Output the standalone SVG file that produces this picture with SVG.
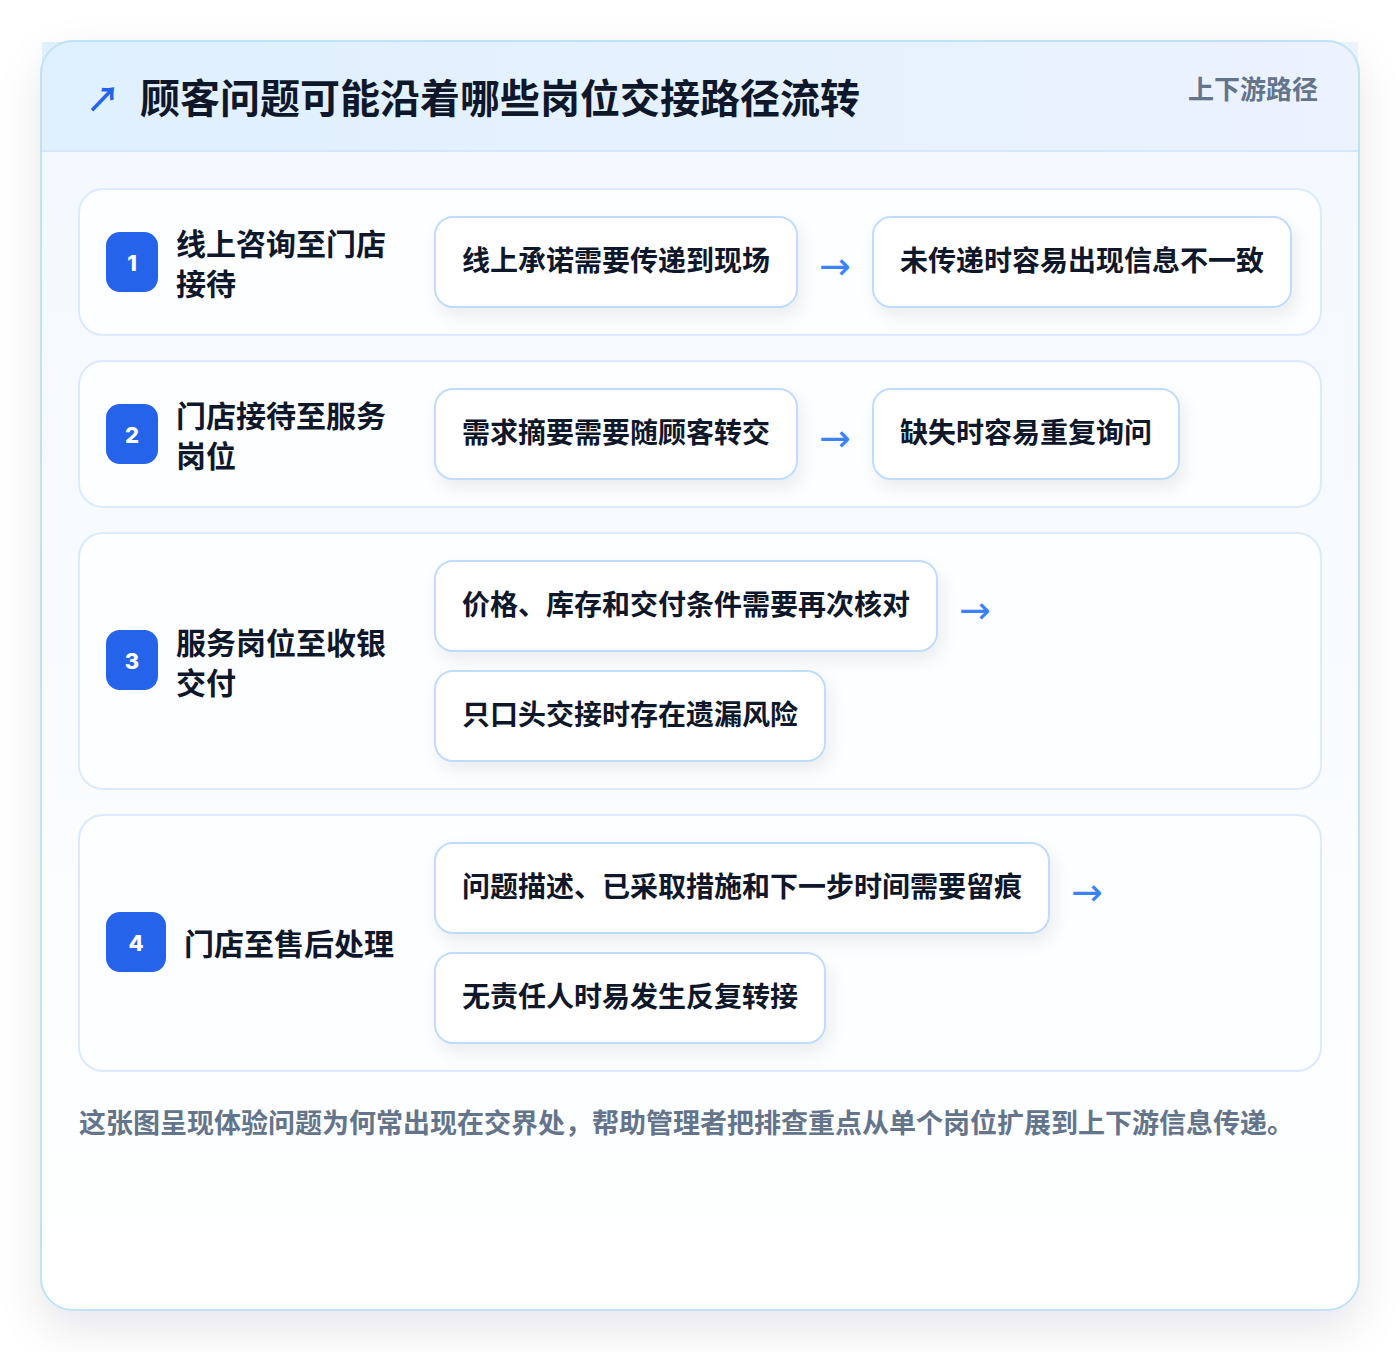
<svg xmlns="http://www.w3.org/2000/svg" width="1400" height="1352" viewBox="0 0 1400 1352">
  <defs>
    <linearGradient id="cardFill" x1="0" y1="0" x2="0" y2="1">
      <stop offset="0" stop-color="#f2f8fe"/>
      <stop offset="1" stop-color="#ffffff"/>
    </linearGradient>
    <linearGradient id="headFill" x1="0" y1="0" x2="1" y2="0">
      <stop offset="0" stop-color="#dff0fe"/>
      <stop offset="1" stop-color="#ecf2fe"/>
    </linearGradient>
    <filter id="cardShadow" x="-10%" y="-10%" width="120%" height="125%">
      <feDropShadow dx="0" dy="18" stdDeviation="22" flood-color="#0f172a" flood-opacity="0.10"/>
    </filter>
    <filter id="boxShadow" x="-10%" y="-20%" width="130%" height="160%">
      <feDropShadow dx="4" dy="8" stdDeviation="8" flood-color="#0f172a" flood-opacity="0.07"/>
    </filter>
  </defs>
  <style>
    text { font-family: "Noto Sans CJK SC", "Noto Sans", "Liberation Sans", sans-serif; font-weight: 700; }
    .row { fill: #fdfeff; stroke: #dbeafe; stroke-width: 2; }
    .badge { fill: #2563eb; }
    .badgeNum { fill: #ffffff; font-size: 22px; text-anchor: middle; font-family: "Inter", "Noto Sans", sans-serif; font-weight: 800; }
    .label { fill: #0f172a; font-size: 30px; }
    .box { fill: #ffffff; stroke: #bfdbfe; stroke-width: 2; }
    .boxText { fill: #0f172a; font-size: 28px; }
    .arrow { fill: #3b82f6; font-size: 38px; font-family: "DejaVu Sans", sans-serif; font-weight: 400; }
  </style>

  <rect x="0" y="0" width="1400" height="1352" fill="#ffffff"/>

  <!-- Card -->
  <g id="card">
    <rect x="41" y="41" width="1318" height="1269" rx="32" fill="url(#cardFill)" filter="url(#cardShadow)"/>
    <rect x="42" y="42" width="1316" height="109" fill="url(#headFill)"/>
    <line x1="42" y1="151" x2="1358" y2="151" stroke="#d5e8fb" stroke-width="2"/>
    <rect x="41" y="41" width="1318" height="1269" rx="32" fill="none" stroke="#bee3f7" stroke-width="2"/>
  </g>

  <g id="header">
    <text x="86" y="112" fill="#2563eb" font-size="34" font-family="DejaVu Sans, sans-serif" font-weight="700">↗</text>
    <text x="140" y="113" fill="#0f172a" font-size="40">顾客问题可能沿着哪些岗位交接路径流转</text>
    <text x="1318" y="99" fill="#64748b" font-size="26" text-anchor="end">上下游路径</text>
  </g>

  <!-- Row 1 -->
  <g id="row1">
    <rect class="row" x="79" y="189" width="1242" height="146" rx="24"/>
    <rect class="badge" x="106" y="232" width="52" height="60" rx="14"/>
    <text class="badgeNum" x="132" y="271">1</text>
    <text class="label" x="176" y="255">线上咨询至门店</text>
    <text class="label" x="176" y="295">接待</text>
  </g>
  <g id="row1-a">
    <rect class="box" x="435" y="217" width="362" height="90" rx="18" filter="url(#boxShadow)"/>
    <text class="boxText" x="462" y="271">线上承诺需要传递到现场</text>
  </g>
  <g id="row1-b">
    <rect class="box" x="873" y="217" width="418" height="90" rx="18" filter="url(#boxShadow)"/>
    <text class="boxText" x="900" y="271">未传递时容易出现信息不一致</text>
  </g>

  <!-- Row 2 -->
  <g id="row2">
    <rect class="row" x="79" y="361" width="1242" height="146" rx="24"/>
    <rect class="badge" x="106" y="404" width="52" height="60" rx="14"/>
    <text class="badgeNum" x="132" y="443">2</text>
    <text class="label" x="176" y="427">门店接待至服务</text>
    <text class="label" x="176" y="467">岗位</text>
  </g>
  <g id="row2-a">
    <rect class="box" x="435" y="389" width="362" height="90" rx="18" filter="url(#boxShadow)"/>
    <text class="boxText" x="462" y="443">需求摘要需要随顾客转交</text>
  </g>
  <g id="row2-b">
    <rect class="box" x="873" y="389" width="306" height="90" rx="18" filter="url(#boxShadow)"/>
    <text class="boxText" x="900" y="443">缺失时容易重复询问</text>
  </g>

  <!-- Row 3 -->
  <g id="row3">
    <rect class="row" x="79" y="533" width="1242" height="256" rx="24"/>
    <rect class="badge" x="106" y="630" width="52" height="60" rx="14"/>
    <text class="badgeNum" x="132" y="669">3</text>
    <text class="label" x="176" y="654">服务岗位至收银</text>
    <text class="label" x="176" y="694">交付</text>
  </g>
  <g id="row3-a">
    <rect class="box" x="435" y="561" width="502" height="90" rx="18" filter="url(#boxShadow)"/>
    <text class="boxText" x="462" y="615">价格、库存和交付条件需要再次核对</text>
  </g>
  <g id="row3-b">
    <rect class="box" x="435" y="671" width="390" height="90" rx="18" filter="url(#boxShadow)"/>
    <text class="boxText" x="462" y="725">只口头交接时存在遗漏风险</text>
  </g>

  <!-- Row 4 -->
  <g id="row4">
    <rect class="row" x="79" y="815" width="1242" height="256" rx="24"/>
    <rect class="badge" x="106" y="912" width="60" height="60" rx="14"/>
    <text class="badgeNum" x="136" y="951">4</text>
    <text class="label" x="184" y="955">门店至售后处理</text>
  </g>
  <g id="row4-a">
    <rect class="box" x="435" y="843" width="614" height="90" rx="18" filter="url(#boxShadow)"/>
    <text class="boxText" x="462" y="897">问题描述、已采取措施和下一步时间需要留痕</text>
  </g>
  <g id="row4-b">
    <rect class="box" x="435" y="953" width="390" height="90" rx="18" filter="url(#boxShadow)"/>
    <text class="boxText" x="462" y="1007">无责任人时易发生反复转接</text>
  </g>

  <!-- Connectors -->
  <g id="connectors">
    <text class="arrow" x="819" y="279">→</text>
    <text class="arrow" x="819" y="451">→</text>
    <text class="arrow" x="959" y="623">→</text>
    <text class="arrow" x="1071" y="905">→</text>
  </g>

  <g id="footer">
    <text x="79" y="1133" fill="#64748b" font-size="27">这张图呈现体验问题为何常出现在交界处，帮助管理者把排查重点从单个岗位扩展到上下游信息传递。</text>
  </g>
</svg>
